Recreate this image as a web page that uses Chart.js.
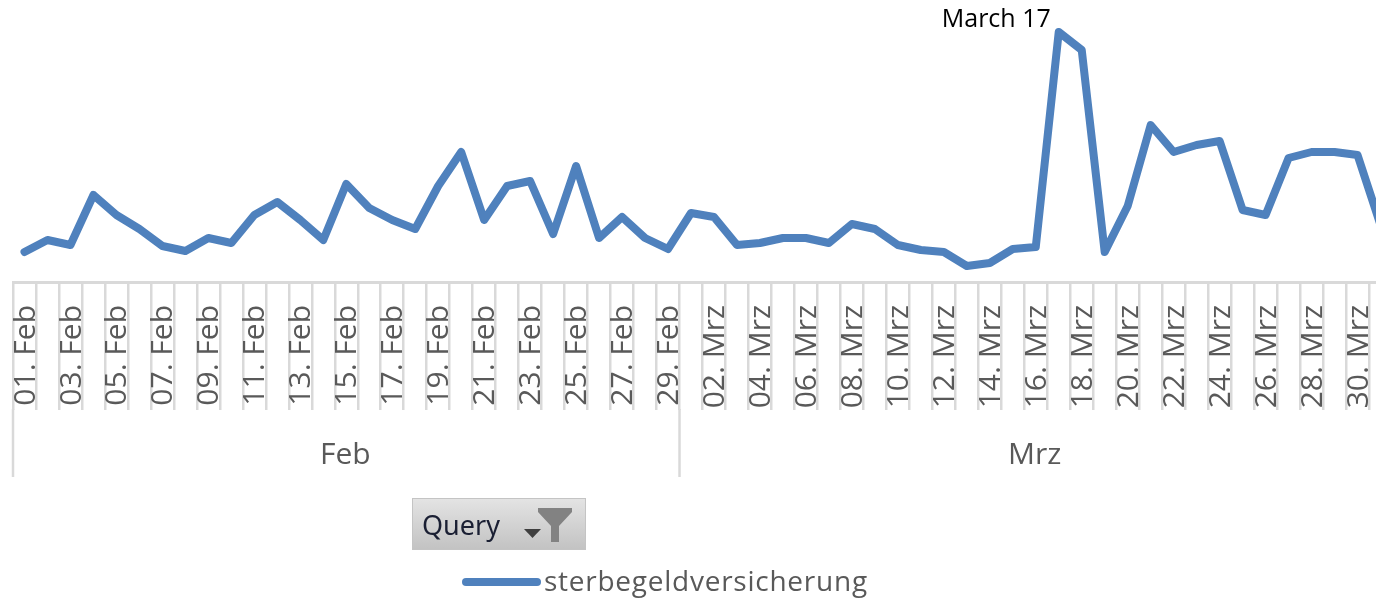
<!DOCTYPE html>
<html><head><meta charset="utf-8">
<style>html,body{margin:0;padding:0;background:#fff;overflow:hidden;width:1376px;height:600px}
#w{position:absolute;left:0;top:0;width:1400px;height:600px}</style>
<script src="https://cdn.jsdelivr.net/npm/chart.js@4"></script></head><body>
<div id="w"><canvas id="c" width="1400" height="600"></canvas></div>
<script>
const categories = ["01. Feb","02. Feb","03. Feb","04. Feb","05. Feb","06. Feb","07. Feb","08. Feb","09. Feb","10. Feb","11. Feb","12. Feb","13. Feb","14. Feb","15. Feb","16. Feb","17. Feb","18. Feb","19. Feb","20. Feb","21. Feb","22. Feb","23. Feb","24. Feb","25. Feb","26. Feb","27. Feb","28. Feb","29. Feb",
"01. Mrz","02. Mrz","03. Mrz","04. Mrz","05. Mrz","06. Mrz","07. Mrz","08. Mrz","09. Mrz","10. Mrz","11. Mrz","12. Mrz","13. Mrz","14. Mrz","15. Mrz","16. Mrz","17. Mrz","18. Mrz","19. Mrz","20. Mrz","21. Mrz","22. Mrz","23. Mrz","24. Mrz","25. Mrz","26. Mrz","27. Mrz","28. Mrz","29. Mrz","30. Mrz","31. Mrz"];
const values = [12,16.8,14.8,34.8,26.8,21.2,14.4,12.4,17.6,15.6,26.8,32,24.8,16.8,39.2,29.6,24.8,21.2,38.4,52,24.8,38.4,40.4,19.2,46.4,17.6,26,17.6,13.2,
27.6,26,14.8,15.6,17.6,17.6,15.6,23.2,21.2,14.8,12.8,12,6.4,7.6,13.2,14,100,92.8,12,30.4,62.8,52,54.8,56.4,28.8,26.8,49.6,52,52,50.8,22.8];
const seriesName = "sterbegeldversicherung";
const groupNames = ["Feb","Mrz"];
const groupSizes = [29,31];
const peakIndex = 45;
const peakLabel = "March 17";

const FONT = '"Open Sans"';
const decor = {
  id:'decor',
  afterDatasetsDraw(chart){
    const ctx = chart.ctx, x = chart.scales.x, y = chart.scales.y;
    const step = x.getPixelForValue(1) - x.getPixelForValue(0);
    ctx.save();
    // group level of the axis
    let start = 0;
    const edge = i => x.getPixelForValue(0) - step/2 + i*step;
    ctx.strokeStyle = '#d9d9d9'; ctx.lineWidth = 2.5;
    [0,groupSizes[0]].forEach(i=>{
      ctx.beginPath(); ctx.moveTo(edge(i),409); ctx.lineTo(edge(i),477); ctx.stroke();
    });
    ctx.fillStyle = '#595959'; ctx.font = '30px '+FONT;
    ctx.textAlign='center'; ctx.textBaseline='middle';
    groupNames.forEach((n,k)=>{
      const mid = (edge(start)+edge(start+groupSizes[k]))/2;
      ctx.fillText(n, mid-1, 455);
      start += groupSizes[k];
    });
    // peak annotation
    ctx.fillStyle='#000'; ctx.font='25px '+FONT;
    ctx.textAlign='right'; ctx.textBaseline='middle';
    ctx.fillText(peakLabel, x.getPixelForValue(peakIndex)-8, y.getPixelForValue(values[peakIndex])-12);
    // legend
    const ds = chart.data.datasets[0];
    ctx.strokeStyle = ds.borderColor; ctx.lineWidth = 8; ctx.lineCap='round';
    ctx.beginPath(); ctx.moveTo(466,582); ctx.lineTo(537,582); ctx.stroke();
    ctx.fillStyle='#595959'; ctx.font='28px '+FONT; ctx.textAlign='left';
    ctx.letterSpacing='0.75px';
    ctx.fillText(ds.label, 544, 583);
    ctx.letterSpacing='0px';
    // Query filter button
    const g = ctx.createLinearGradient(0,498,0,550);
    g.addColorStop(0,'#e4e4e4'); g.addColorStop(1,'#c2c2c2');
    ctx.fillStyle=g; ctx.fillRect(412,498,174,52);
    ctx.strokeStyle='#c4c4c4'; ctx.lineWidth=1; ctx.strokeRect(412.5,498.5,173,51);
    ctx.fillStyle='#1a1f33'; ctx.font='27px "Noto Sans"'; ctx.textAlign='left';
    ctx.fillText('Query',422,527);
    ctx.fillStyle='#3f3f3f';
    ctx.beginPath(); ctx.moveTo(524,529); ctx.lineTo(541,529); ctx.lineTo(532.5,538); ctx.closePath(); ctx.fill();
    ctx.fillStyle='#828282';
    ctx.beginPath(); ctx.moveTo(538,508); ctx.lineTo(572,508); ctx.lineTo(572,512); ctx.lineTo(559,526); ctx.lineTo(559,542); ctx.lineTo(551,542); ctx.lineTo(551,526); ctx.lineTo(538,512); ctx.closePath(); ctx.fill();
    ctx.restore();
  }
};
new Chart(document.getElementById('c'),{
  type:'line',
  data:{labels:categories,datasets:[{label:seriesName,data:values,borderColor:'#4f81bd',borderWidth:8,
    tension:0,pointRadius:0,fill:false,clip:false,borderCapStyle:'round',borderJoinStyle:'round'}]},
  options:{
    responsive:false,animation:false,
    layout:{padding:{left:13,right:8,top:32,bottom:0}},
    plugins:{legend:{display:false},tooltip:{enabled:false}},
    scales:{
      x:{type:'category',offset:true,
        grid:{offset:true,drawOnChartArea:false,drawTicks:true,tickLength:128,color:'#d9d9d9',lineWidth:2.5},
        border:{display:true,color:'#d9d9d9',width:3},
        ticks:{autoSkip:false,minRotation:90,maxRotation:90,padding:-105,labelOffset:1.5,color:'#595959',
          font:{family:FONT,size:30},
          callback(v,i){return i%2===0?this.getLabelForValue(v):'';}},
        afterFit(s){s.height=318;s.paddingLeft=0;s.paddingRight=0;}
      },
      y:{display:false,min:0,max:100}
    }
  },
  plugins:[decor]
});
</script></body></html>
